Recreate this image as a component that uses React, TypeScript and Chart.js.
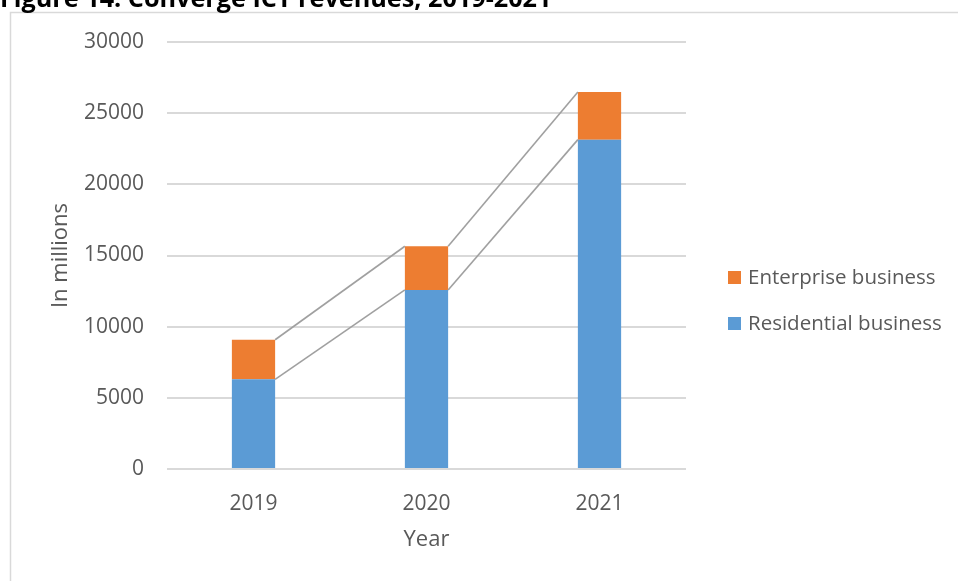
import React, { useEffect, useRef } from "react";
import { Chart, registerables } from "chart.js";

Chart.register(...registerables);

const years = ["2019", "2020", "2021"];
const residential = [6300, 12580, 23140];
const enterprise = [2780, 3070, 3350];
const yTicks = [0, 5000, 10000, 15000, 20000, 25000, 30000];
const titleText = "Figure 14. Converge ICT revenues, 2019-2021";
const yTitle = "In millions";
const xTitle = "Year";

const BLUE = "#5B9BD5";
const ORANGE = "#ED7D31";
const TEXT = "#595959";
const FONT = "'Open Sans', sans-serif";

const decor = {
  id: "decor",
  beforeDraw(chart: any) {
    const ctx = chart.ctx;
    ctx.save();
    ctx.fillStyle = "#ffffff";
    ctx.fillRect(0, 0, chart.width, chart.height);
    ctx.strokeStyle = "#d9d9d9";
    ctx.lineWidth = 1.5;
    ctx.beginPath();
    ctx.moveTo(958, 12.5);
    ctx.lineTo(10.5, 12.5);
    ctx.lineTo(10.5, chart.height + 5);
    ctx.stroke();
    // title (cropped at top)
    ctx.font = `bold 22px ${FONT}`;
    const w = ctx.measureText("Figure 14. Converge ICT revenue").width;
    const fs = (22 * 402) / w;
    ctx.font = `bold ${fs}px ${FONT}`;
    ctx.fillStyle = "#000000";
    ctx.textBaseline = "alphabetic";
    ctx.textAlign = "left";
    ctx.fillText(titleText, 0, 7);
    ctx.restore();
  },
  afterDatasetsDraw(chart: any) {
    const ctx = chart.ctx;
    ctx.save();
    ctx.strokeStyle = "#a0a0a0";
    ctx.lineWidth = 1.6;
    for (let d = 0; d < chart.data.datasets.length; d++) {
      const meta = chart.getDatasetMeta(d);
      for (let i = 0; i < meta.data.length - 1; i++) {
        const a = meta.data[i] as any;
        const b = meta.data[i + 1] as any;
        ctx.beginPath();
        ctx.moveTo(a.x + a.width / 2, a.y);
        ctx.lineTo(b.x - b.width / 2, b.y);
        ctx.stroke();
      }
    }
    // legend
    const items = [
      { label: chart.data.datasets[1].label, color: ORANGE, y: 277.5 },
      { label: chart.data.datasets[0].label, color: BLUE, y: 323.5 },
    ];
    ctx.font = `20.5px ${FONT}`;
    ctx.textBaseline = "middle";
    ctx.textAlign = "left";
    for (const it of items) {
      ctx.fillStyle = it.color;
      ctx.fillRect(728, it.y - 6.5, 13, 13);
      ctx.fillStyle = TEXT;
      ctx.fillText(it.label, 748, it.y + 1);
    }
    ctx.restore();
  },
};

export default function App() {
  const ref = useRef<HTMLCanvasElement>(null);
  useEffect(() => {
    if (!ref.current) return;
    const chart = new Chart(ref.current, {
      type: "bar",
      data: {
        labels: years,
        datasets: [
          {
            label: "Residential business",
            data: residential,
            backgroundColor: BLUE,
            categoryPercentage: 1,
            barPercentage: 0.25,
          },
          {
            label: "Enterprise business",
            data: enterprise,
            backgroundColor: ORANGE,
            categoryPercentage: 1,
            barPercentage: 0.25,
          },
        ],
      },
      options: {
        responsive: false,
        animation: false,
        devicePixelRatio: 1,
        layout: { padding: { top: 42, left: 0, right: 272, bottom: 0 } },
        plugins: {
          legend: { display: false },
          tooltip: { enabled: false },
          title: { display: false },
        },
        scales: {
          x: {
            stacked: true,
            grid: { display: false, drawTicks: false },
            border: { display: false },
            ticks: { color: TEXT, font: { family: FONT, size: 21 }, padding: 22 },
            title: {
              display: true,
              text: xTitle,
              color: TEXT,
              font: { family: FONT, size: 22 },
              padding: { top: 0, bottom: 28 },
            },
            afterFit(scale: any) {
              scale.height = 112;
            },
          },
          y: {
            stacked: true,
            min: 0,
            max: 30000,
            afterBuildTicks(scale: any) {
              scale.ticks = yTicks.map((v) => ({ value: v }));
            },
            grid: { color: "#d9d9d9", lineWidth: 2, drawTicks: false },
            border: { display: false },
            ticks: {
              color: TEXT,
              font: { family: FONT, size: 21 },
              padding: 23,
              callback: (v: any) => String(v),
            },
            title: {
              display: true,
              text: yTitle,
              color: TEXT,
              font: { family: FONT, size: 22 },
              padding: { top: 48, bottom: 0 },
            },
            afterFit(scale: any) {
              scale.width = 167;
            },
          },
        },
      },
      plugins: [decor],
    });
    return () => chart.destroy();
  }, []);
  return (
    <div style={{ position: "absolute", left: 0, top: 0, width: 958, height: 581, overflow: "hidden", background: "#fff" }}>
      <canvas ref={ref} width={958} height={581} style={{ display: "block", width: 958, height: 581 }} />
    </div>
  );
}
